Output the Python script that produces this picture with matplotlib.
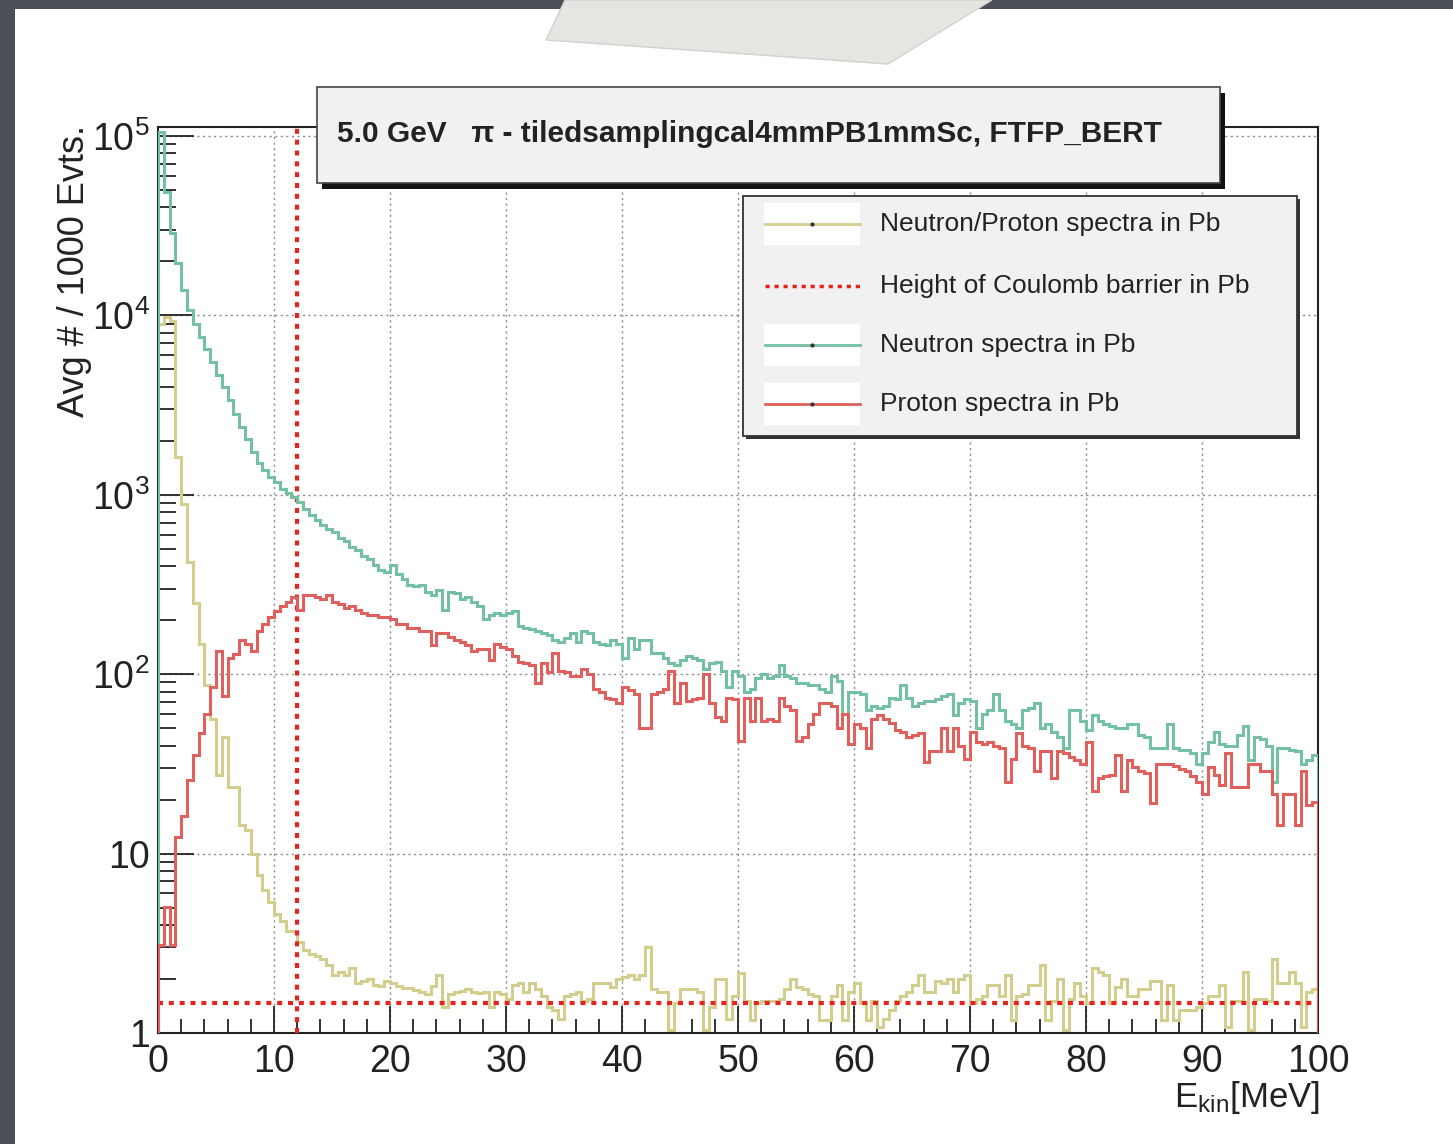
import matplotlib
matplotlib.use('Agg')
import matplotlib.pyplot as plt
import numpy as np
from matplotlib.patches import Rectangle, Polygon
from matplotlib.lines import Line2D
from matplotlib.ticker import MultipleLocator, LogLocator, FuncFormatter, NullFormatter

plt.rcParams['font.family'] = ['Liberation Sans', 'DejaVu Sans']
plt.rcParams['mathtext.fontset'] = 'custom'
plt.rcParams['mathtext.rm'] = 'Liberation Sans'
plt.rcParams['mathtext.it'] = 'Liberation Sans:italic'
plt.rcParams['mathtext.bf'] = 'Liberation Sans:bold'

# Histogram binning: 200 bins of 0.5 MeV between 0 and 100 MeV
bin_edges = np.linspace(0, 100, 201)

# log10 of the neutron bin contents
neutron_log10 = [
    5.02, 4.69, 4.46, 4.29, 4.14, 4.03, 3.95, 3.88, 3.81, 3.74,
    3.67, 3.60, 3.53, 3.45, 3.38, 3.31, 3.24, 3.18, 3.14, 3.10,
    3.07, 3.03, 3.01, 2.99, 2.96, 2.92, 2.89, 2.86, 2.83, 2.81,
    2.79, 2.76, 2.74, 2.71, 2.69, 2.66, 2.64, 2.61, 2.58, 2.57,
    2.61, 2.56, 2.53, 2.50, 2.49, 2.50, 2.46, 2.44, 2.47, 2.36,
    2.46, 2.45, 2.42, 2.43, 2.40, 2.38, 2.31, 2.33, 2.34, 2.33,
    2.34, 2.35, 2.27, 2.26, 2.25, 2.24, 2.23, 2.22, 2.19, 2.18,
    2.20, 2.23, 2.18, 2.24, 2.23, 2.18, 2.17, 2.16, 2.19, 2.17,
    2.09, 2.20, 2.14, 2.19, 2.19, 2.12, 2.12, 2.09, 2.06, 2.05,
    2.08, 2.10, 2.09, 2.08, 2.03, 2.06, 2.07, 2.02, 1.93, 2.02,
    1.99, 1.90, 1.92, 1.98, 2.00, 1.98, 1.99, 2.05, 1.99, 1.98,
    1.95, 1.95, 1.94, 1.94, 1.92, 1.90, 1.99, 1.96, 1.78, 1.90,
    1.90, 1.89, 1.80, 1.82, 1.81, 1.82, 1.87, 1.86, 1.94, 1.87,
    1.82, 1.84, 1.85, 1.85, 1.86, 1.88, 1.89, 1.77, 1.84, 1.86,
    1.85, 1.70, 1.78, 1.80, 1.89, 1.80, 1.74, 1.72, 1.70, 1.80,
    1.81, 1.84, 1.70, 1.72, 1.68, 1.65, 1.59, 1.80, 1.80, 1.74,
    1.69, 1.77, 1.74, 1.72, 1.71, 1.70, 1.70, 1.72, 1.72, 1.66,
    1.65, 1.59, 1.59, 1.59, 1.72, 1.59, 1.58, 1.58, 1.56, 1.50,
    1.56, 1.62, 1.68, 1.61, 1.60, 1.60, 1.66, 1.71, 1.52, 1.65,
    1.64, 1.60, 1.40, 1.59, 1.59, 1.58, 1.57, 1.50, 1.52, 1.55,
]

# log10 of the proton bin contents
proton_log10 = [
    0.49, 0.70, 0.49, 1.09, 1.21, 1.41, 1.55, 1.67, 1.78, 1.93,
    2.13, 1.88, 2.09, 2.11, 2.19, 2.17, 2.13, 2.24, 2.28, 2.32,
    2.35, 2.38, 2.40, 2.43, 2.36, 2.44, 2.44, 2.43, 2.42, 2.44,
    2.40, 2.39, 2.37, 2.38, 2.36, 2.34, 2.33, 2.33, 2.32, 2.32,
    2.31, 2.28, 2.28, 2.26, 2.26, 2.24, 2.24, 2.16, 2.23, 2.23,
    2.21, 2.19, 2.18, 2.16, 2.13, 2.14, 2.14, 2.08, 2.17, 2.15,
    2.14, 2.10, 2.07, 2.06, 2.05, 1.95, 2.06, 2.01, 2.12, 2.02,
    2.01, 1.99, 1.99, 2.03, 2.00, 1.92, 1.90, 1.87, 1.86, 1.84,
    1.93, 1.91, 1.89, 1.70, 1.70, 1.89, 1.90, 1.92, 2.02, 1.84,
    1.95, 1.85, 1.86, 1.87, 2.00, 1.84, 1.76, 1.74, 1.87, 1.86,
    1.63, 1.87, 1.74, 1.87, 1.74, 1.75, 1.74, 1.87, 1.82, 1.80,
    1.63, 1.65, 1.72, 1.78, 1.84, 1.84, 1.82, 1.70, 1.78, 1.61,
    1.72, 1.70, 1.59, 1.75, 1.77, 1.75, 1.73, 1.69, 1.68, 1.65,
    1.66, 1.67, 1.51, 1.57, 1.57, 1.70, 1.57, 1.70, 1.60, 1.53,
    1.68, 1.62, 1.61, 1.62, 1.60, 1.59, 1.40, 1.53, 1.67, 1.60,
    1.59, 1.46, 1.57, 1.57, 1.42, 1.57, 1.56, 1.54, 1.52, 1.50,
    1.62, 1.35, 1.42, 1.43, 1.44, 1.55, 1.35, 1.52, 1.48, 1.46,
    1.45, 1.28, 1.50, 1.50, 1.50, 1.49, 1.47, 1.46, 1.43, 1.40,
    1.33, 1.48, 1.44, 1.38, 1.56, 1.37, 1.37, 1.37, 1.50, 1.50,
    1.46, 1.46, 1.33, 1.16, 1.33, 1.33, 1.16, 1.46, 1.27, 1.29,
]

# Neutron/proton ratio per bin (linear)
ratio = [
    8900, 9800, 9300, 1620, 890, 420, 250, 148, 87, 56,
    27.5, 44.7, 23.4, 23.4, 14.5, 13.5, 10.0, 7.6, 6.3, 5.4,
    4.6, 4.2, 3.7, 3.7, 3.2, 2.9, 2.75, 2.7, 2.6, 2.4,
    2.1, 2.2, 2.1, 2.3, 1.9, 1.95, 2.0, 1.86, 1.82, 1.95,
    1.9, 1.82, 1.78, 1.78, 1.74, 1.70, 1.66, 1.82, 2.1, 1.4,
    1.65, 1.70, 1.72, 1.75, 1.70, 1.68, 1.70, 1.40, 1.70, 1.65,
    1.55, 1.85, 1.90, 1.70, 1.90, 1.75, 1.60, 1.40, 1.35, 1.20,
    1.60, 1.65, 1.70, 1.50, 1.55, 1.90, 1.90, 1.90, 1.80, 2.00,
    2.05, 2.10, 2.00, 2.10, 3.00, 1.75, 1.70, 1.70, 1.04, 1.47,
    1.75, 1.75, 1.75, 1.70, 1.04, 1.40, 2.00, 2.00, 1.20, 1.60,
    2.15, 1.50, 1.18, 1.47, 1.50, 1.50, 1.50, 1.55, 1.75, 2.00,
    1.80, 1.75, 1.65, 1.60, 1.18, 1.18, 1.60, 1.85, 1.18, 1.70,
    1.90, 1.47, 1.18, 1.50, 1.08, 1.20, 1.35, 1.50, 1.60, 1.70,
    1.85, 2.10, 1.70, 1.70, 1.95, 1.90, 2.00, 1.70, 2.00, 2.10,
    1.47, 1.55, 1.60, 1.85, 1.85, 1.60, 2.10, 1.18, 1.60, 1.65,
    1.85, 1.85, 2.40, 1.18, 1.50, 2.00, 1.04, 1.55, 1.90, 1.60,
    1.47, 2.30, 2.20, 2.10, 1.47, 1.80, 2.00, 1.60, 1.60, 1.75,
    1.75, 1.95, 1.95, 1.18, 1.85, 1.18, 1.35, 1.35, 1.35, 1.40,
    1.47, 1.60, 1.60, 1.85, 1.08, 1.50, 1.50, 2.20, 1.04, 1.55,
    1.55, 1.50, 2.60, 1.90, 1.90, 2.20, 1.90, 1.08, 1.70, 1.75,
]

# Coulomb barrier in Pb: energy (MeV) and N/Z level
barrier_energy = 12.0
barrier_level = 1.47

neutron = 10 ** np.array(neutron_log10)
proton = 10 ** np.array(proton_log10)

# Colours (ROOT-like)
col_ratio = '#d3cd8e'
col_neutron = '#74c0a2'
col_proton = '#e0605e'
col_barrier = '#e3241f'

W, H = 1453, 1144
fig = plt.figure(figsize=(W / 100, H / 100), dpi=100, facecolor='#4b5058')

def fx(px):
    return px / W

def fy(py):
    return 1 - py / H

# White slide page and the piece of tape on top
fig.add_artist(Rectangle((fx(15), 0), 1 - fx(15), fy(9), transform=fig.transFigure,
                         facecolor='white', edgecolor='none', zorder=-10))
fig.add_artist(Polygon([(fx(565), fy(0)), (fx(992), fy(0)), (fx(888), fy(64)), (fx(546), fy(40))],
                       closed=True, transform=fig.transFigure, facecolor='#e6e5e2',
                       edgecolor='#d2d1ce', linewidth=1, zorder=-9))

# Axes frame
ax = fig.add_axes([fx(158), fy(1033), (1318 - 158) / W, (1033 - 127) / H])
ax.set_facecolor('white')
ax.set_xlim(0, 100)
ax.set_yscale('log')
ax.set_ylim(1, 10 ** (906 / 179.4))

ax.set_axisbelow(True)
ax.grid(True, which='major', color='#8a8a8a', linestyle=(0, (1.5, 2.5)), linewidth=1.0)

# Histograms
ax.stairs(ratio, bin_edges, baseline=0.5, color=col_ratio, linewidth=2.2, zorder=2)
ax.axvline(barrier_energy, color=col_barrier, linewidth=3, linestyle=(0, (1.2, 1.4)), zorder=3)
ax.axhline(barrier_level, color=col_barrier, linewidth=3, linestyle=(0, (1.2, 1.4)), zorder=3)
ax.stairs(neutron, bin_edges, baseline=0.5, color=col_neutron, linewidth=2.2, zorder=4)
ax.stairs(proton, bin_edges, baseline=0.5, color=col_proton, linewidth=2.2, zorder=5)

# Ticks, ROOT style (inside, left and bottom only)
ax.xaxis.set_major_locator(MultipleLocator(10))
ax.xaxis.set_minor_locator(MultipleLocator(2))
ax.yaxis.set_major_locator(LogLocator(base=10, numticks=10))
ax.yaxis.set_minor_locator(LogLocator(base=10, subs=np.arange(2, 10), numticks=20))
ax.yaxis.set_minor_formatter(NullFormatter())

def ylabel_fmt(v, pos):
    if v < 1.5:
        return '1'
    if v < 15:
        return '10'
    return r'$\mathregular{10^{%d}}$' % round(np.log10(v))

ax.yaxis.set_major_formatter(FuncFormatter(ylabel_fmt))

ax.tick_params(axis='both', which='both', direction='in', top=False, right=False,
               colors='#222222', width=1.3)
ax.tick_params(axis='y', which='major', length=26, labelsize=27, pad=6)
ax.tick_params(axis='y', which='minor', length=13)
ax.tick_params(axis='x', which='major', length=19.5, labelsize=27, pad=8)
ax.tick_params(axis='x', which='minor', length=10)
for s in ax.spines.values():
    s.set_linewidth(1.5)
    s.set_color('#222222')

# Axis titles
fig.text(fx(75), fy(125), 'Avg # / 1000 Evts.', rotation=90, ha='center', va='top',
         fontsize=26, color='#222222')
fig.text(fx(1320), fy(1098), r'E$_{\mathregular{kin}}$[MeV]', ha='right', va='center',
         fontsize=25, color='#222222')

# Title box with shadow
fig.add_artist(Rectangle((fx(322), fy(189)), (1220 - 317) / W, (183 - 87) / H,
                         transform=fig.transFigure, facecolor='#111111', edgecolor='none', zorder=6))
fig.add_artist(Rectangle((fx(317), fy(183)), (1220 - 317) / W, (183 - 87) / H,
                         transform=fig.transFigure, facecolor='#f1f1f1', edgecolor='#444444',
                         linewidth=1.2, zorder=7))
fig.text(fx(337), fy(134), '5.0 GeV   \u03c0 - tiledsamplingcal4mmPB1mmSc, FTFP_BERT',
         ha='left', va='center', fontsize=21.5, fontweight='bold', color='#222222', zorder=8)

# Legend box
fig.add_artist(Rectangle((fx(746), fy(439)), (1297 - 743) / W, (436 - 196) / H,
                         transform=fig.transFigure, facecolor='#333333', edgecolor='none', zorder=6))
fig.add_artist(Rectangle((fx(743), fy(436)), (1297 - 743) / W, (436 - 196) / H,
                         transform=fig.transFigure, facecolor='#f1f1f1', edgecolor='#333333',
                         linewidth=1.3, zorder=7))

legend_rows = [
    ('Neutron/Proton spectra in Pb', col_ratio, 224, True),
    ('Height of Coulomb barrier in Pb', col_barrier, 286, False),
    ('Neutron spectra in Pb', col_neutron, 345, True),
    ('Proton spectra in Pb', col_proton, 404, True),
]
for label, color, row_y, is_hist in legend_rows:
    if is_hist:
        fig.add_artist(Rectangle((fx(764), fy(row_y + 21)), (860 - 764) / W, 42 / H,
                                 transform=fig.transFigure, facecolor='white',
                                 edgecolor='none', zorder=8))
        fig.add_artist(Line2D([fx(765), fx(860)], [fy(row_y), fy(row_y)],
                              transform=fig.transFigure, color=color, linewidth=2, zorder=9))
        fig.add_artist(Line2D([fx(812)], [fy(row_y)], transform=fig.transFigure, marker='o',
                              markersize=2, color='#333333', zorder=10))
    else:
        fig.add_artist(Line2D([fx(765), fx(860)], [fy(row_y), fy(row_y)],
                              transform=fig.transFigure, color=color, linewidth=2.5,
                              linestyle=(0, (1.2, 1.4)), zorder=9))
    fig.text(fx(880), fy(row_y), label, ha='left', va='center', fontsize=19,
             color='#222222', zorder=10)

fig.savefig('out.png', dpi=100, facecolor=fig.get_facecolor())
